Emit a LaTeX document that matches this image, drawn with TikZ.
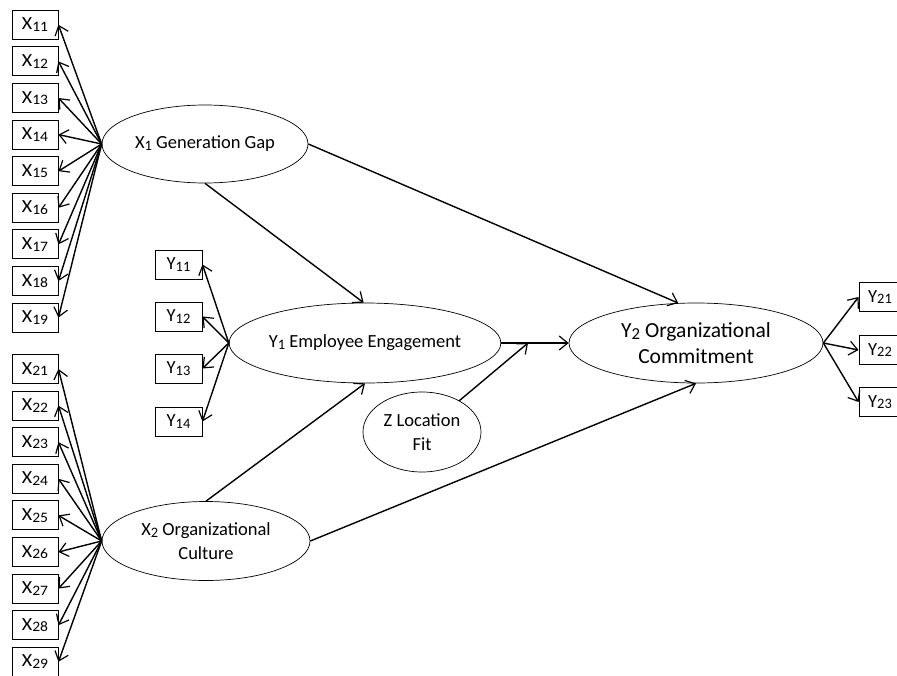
\documentclass[tikz,border=0pt]{standalone}
\usepackage{fontspec}
\setmainfont{Carlito}
\usetikzlibrary{shapes.geometric,arrows.meta}
\tikzset{
  ind/.style={draw, line width=0.9pt, minimum width=46pt, minimum height=29pt, inner sep=0pt, font=\fontsize{18.5}{20}\selectfont},
  lat/.style={draw, ellipse, line width=0.7pt, inner sep=0pt, align=center, font=\fontsize{18.5}{24}\selectfont},
  conn/.style={line width=1.4pt, -{Straight Barb[length=8.5pt,width=14pt,line width=1.2pt]}},
}
\newcommand{\sbs}[1]{\raisebox{-0.09em}{\scalebox{0.78}{#1}}}
\newcommand{\bx}[2]{\scalebox{1.08}[1]{#1\sbs{#2}}}
\begin{document}
\begin{tikzpicture}[x=1pt,y=-1pt]
\useasboundingbox (0,0) rectangle (897,675);
\clip (0,0) rectangle (897,675);
\fill[white] (0,0) rectangle (897,675);
% latent variables
\node[lat, minimum width=206pt, minimum height=78pt] (X1) at (205,144) {X\sbs{1} Generation Gap};
\node[lat, minimum width=208pt, minimum height=79pt] (X2) at (206,541) {X\sbs{2} Organizational\\Culture};
\node[lat, minimum width=254pt, minimum height=80pt] (Y1) at (365,343) {Y\sbs{1} Employee Engagement};
\node[lat, minimum width=118pt, minimum height=80pt] (Z) at (422,432) {Z Location\\Fit};
\node[lat, minimum width=254pt, minimum height=80pt, font=\fontsize{21.5}{26}\selectfont] (Y2) at (696,343) {Y\sbs{2} Organizational\\Commitment};
% X1 indicators
\foreach \i/\yy in {1/24.8,2/61.4,3/98,4/134.6,5/171.2,6/207.8,7/244.4,8/281,9/317.6}{
  \node[ind] (x1\i) at (35,\yy) {\bx{X}{1\i}};
  \draw[conn] (X1.west) -- (x1\i.east);
}
% X2 indicators
\foreach \i/\yy in {1/369,2/405.6,3/442.2,4/478.8,5/515.4,6/552,7/588.6,8/625.2,9/661.8}{
  \node[ind] (x2\i) at (35,\yy) {\bx{X}{2\i}};
  \draw[conn] (X2.west) -- (x2\i.east);
}
% Y1 indicators
\foreach \i/\yy in {1/264.5,2/316.5,3/368.5,4/421.5}{
  \node[ind, minimum width=47pt] (y1\i) at (178.5,\yy) {Y\sbs{1\i}};
  \draw[conn] (Y1.west) -- (y1\i.east);
}
% Y2 indicators
\foreach \i/\yy in {1/297,2/350,3/402}{
  \node[ind, minimum width=42pt] (y2\i) at (880,\yy) {Y\sbs{2\i}};
  \draw[conn] (Y2.east) -- (y2\i.west);
}
% structural paths
\draw[conn] (X1.south) -- (Y1.92);
\draw[conn] (X1.east) -- (Y2.114);
\draw[conn] (X2.north) -- (Y1.south);
\draw[conn] (X2.east) -- (Y2.south);
\draw[conn] (Y1.east) -- (Y2.west);
\coordinate (J) at (528,343);
\draw[conn] (Z.40) -- (J);
\end{tikzpicture}
\end{document}
